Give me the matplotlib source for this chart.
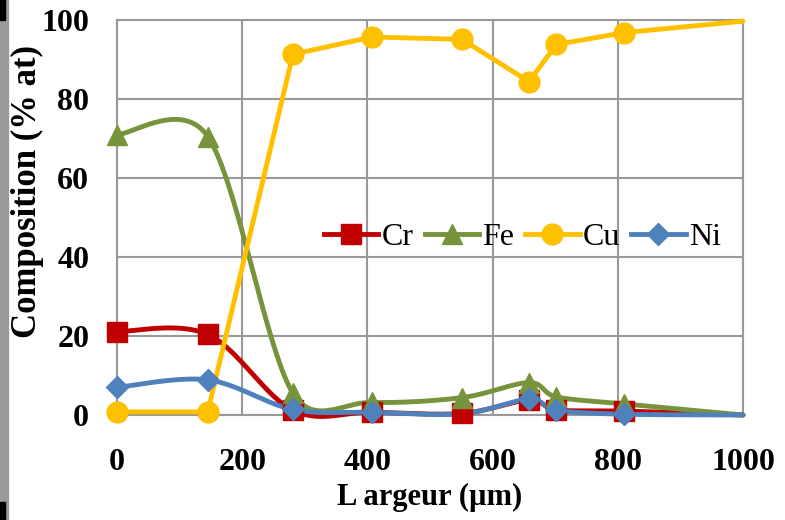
import numpy as np
import matplotlib
matplotlib.use("Agg")
import matplotlib.pyplot as plt
from matplotlib.lines import Line2D
from matplotlib.patches import Rectangle

plt.rcParams["font.family"] = ["Liberation Serif", "DejaVu Serif"]

# valeurs (le point à 1000 µm n'a pas de marqueur)
x_cr = [0, 145, 281, 407, 551, 658, 702, 810, 1000]
cr   = [21.1, 20.4, 1.2, 0.7, 0.4, 3.8, 1.3, 1.0, 0.0]

x_fe = [0, 145, 281, 407, 551, 658, 702, 810, 1000]
fe   = [71.0, 70.5, 5.5, 3.2, 4.4, 8.2, 4.6, 2.8, 0.0]

x_cu = [0, 145, 281, 407, 551, 658, 702, 810, 1000]
cu   = [0.8, 0.8, 91.3, 95.7, 95.1, 84.4, 93.8, 96.8, 99.7]

x_ni = [0, 145, 281, 407, 551, 658, 702, 810, 1000]
ni   = [7.0, 8.9, 1.4, 0.7, 0.3, 4.0, 1.2, 0.2, 0.0]

# nom, x, y, couleur, marqueur, taille, lissage, points marqués
series = [
    ("Cr", x_cr, cr, "#C00000", "s", 14, True, [0, 1, 2, 3, 4, 5, 6, 7]),
    ("Fe", x_fe, fe, "#77933C", "^", 15, True, [0, 1, 2, 3, 4, 5, 6, 7]),
    ("Cu", x_cu, cu, "#FFC000", "o", 15, False, [0, 1, 2, 3, 4, 5, 6, 7]),
    ("Ni", x_ni, ni, "#4F81BD", "D", 11, True, [0, 1, 2, 3, 5, 6, 7]),
]


def smooth(ax, xs, ys, n=40):
    """Courbe lissée façon Excel (Bezier), calculée en pixels."""
    p = ax.transData.transform(np.column_stack([xs, ys]).astype(float))
    m = len(p)
    out = [p[0]]
    t = np.linspace(0, 1, n)[1:, None]

    def ctrl(i, j):
        # point de contrôle autour de p[i], vers p[j]
        a = p[max(i - 1, 0)]
        b = p[min(i + 1, m - 1)]
        tg = (b - a) / 6
        lim = 0.5 * np.linalg.norm(p[j] - p[i])
        ln = np.linalg.norm(tg)
        if ln > lim and ln > 0:
            tg = tg * lim / ln
        return p[i] + tg if j > i else p[i] - tg

    for i in range(m - 1):
        p1, p2 = p[i], p[i + 1]
        c1 = ctrl(i, i + 1)
        c2 = ctrl(i + 1, i)
        seg = ((1 - t) ** 3) * p1 + 3 * ((1 - t) ** 2) * t * c1 \
            + 3 * (1 - t) * t ** 2 * c2 + t ** 3 * p2
        out.extend(seg)
    out = ax.transData.inverted().transform(np.array(out))
    return out[:, 0], out[:, 1]


fig = plt.figure(figsize=(7.85, 5.2), dpi=100)
ax = fig.add_axes([117 / 785, 1 - 415 / 520, 626 / 785, 395 / 520])
ax.set_xlim(0, 1000)
ax.set_ylim(0, 100)

handles = []
for name, xs, ys, col, mk, ms, lisse, marks in series:
    if lisse:
        sx, sy = smooth(ax, xs, ys)
    else:
        sx, sy = xs, ys
    ax.plot(sx, sy, color=col, lw=3.5, solid_capstyle="round",
            solid_joinstyle="round", zorder=3, clip_on=False)
    ax.plot(xs, ys, linestyle="none", marker=mk, ms=ms, color=col, zorder=4,
            markevery=marks, clip_on=False)
    handles.append(Line2D([], [], color=col, lw=3.5, marker=mk, ms=ms))

ax.set_xticks(range(0, 1001, 200))
ax.set_yticks(range(0, 101, 20))
ax.grid(True, color="#999999", lw=1.5)
ax.set_axisbelow(True)
for s in ax.spines.values():
    s.set_color("#999999")
    s.set_linewidth(1.5)
ax.tick_params(length=0, labelsize=23)
ax.tick_params(axis="x", pad=24)
ax.tick_params(axis="y", pad=20)
for lab in ax.get_xticklabels() + ax.get_yticklabels():
    lab.set_fontweight("bold")

ax.set_xlabel("L argeur (µm)", fontsize=22, fontweight="bold")
ax.xaxis.set_label_coords(0.5, -(497 - 415) / 395)
ax.xaxis.label.set_va("center")
ax.set_ylabel("Composition (% at)", fontsize=25, fontweight="bold")
ax.yaxis.set_label_coords((27 - 117) / 626, (415 - 191) / 395)
ax.yaxis.label.set_va("center")

ax.legend(handles, [h[0] for h in series], loc="center left",
          bbox_to_anchor=(0.31, 0.45), frameon=False, ncol=4, fontsize=23,
          handlelength=1.7, handletextpad=0.1, columnspacing=0.35,
          borderaxespad=0)

# bord gris du scan
fig.patches.append(Rectangle((0, 0), 8 / 785, 1, transform=fig.transFigure,
                             color="#9a9a9a", zorder=0))
for y0, h in [(500, 20), (0, 18)]:
    fig.patches.append(Rectangle((0, y0 / 520), 5 / 785, h / 520,
                                 transform=fig.transFigure, color="black",
                                 zorder=1))

fig.savefig("out.png", dpi=100)
